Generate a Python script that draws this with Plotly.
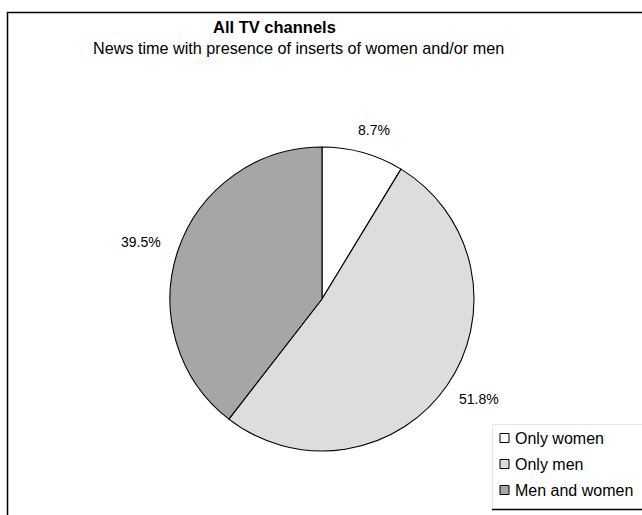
import math
import plotly.graph_objects as go

categories = ["Only women", "Only men", "Men and women"]
values = [8.7, 51.8, 39.5]
colors = ["#FFFFFF", "#DDDDDD", "#A6A6A6"]
title_text = "All TV channels"
subtitle_text = "News time with presence of inserts of women and/or men"

W, H = 642, 515
cx, cy, r = 322, 299, 152
FONT = "Liberation Sans, Arial, sans-serif"


def px(x):
    return x / W


def py(y):
    return 1 - y / H


fig = go.Figure(go.Pie(
    labels=categories,
    values=values,
    sort=False,
    direction="clockwise",
    rotation=0,
    marker=dict(colors=colors, line=dict(color="black", width=1.1)),
    textinfo="none",
    domain=dict(x=[px(cx - r), px(cx + r)], y=[py(cy + r), py(cy - r)]),
    hoverinfo="label+percent",
    showlegend=False,
))

annotations = [
    dict(text="<b>" + title_text + "</b>", x=px(274), y=py(27), xref="paper", yref="paper",
         showarrow=False, font=dict(size=16.5), xanchor="center", yanchor="middle"),
    dict(text=subtitle_text, x=px(298), y=py(48), xref="paper", yref="paper",
         showarrow=False, font=dict(size=16.2), xanchor="center", yanchor="middle"),
]

# outside percentage labels, placed around the mid-angle of each slice
total = sum(values)
cum = 0.0
R_lab, half_w, half_h = 168, 23, 8
for v in values:
    mid = math.radians((cum + v / 2) / total * 360)
    cum += v
    s, c = math.sin(mid), math.cos(mid)
    lx = cx + (R_lab + half_w) * s
    ly = cy - (R_lab + half_h) * c
    annotations.append(dict(text=f"{v:.1f}%", x=px(lx), y=py(ly), xref="paper", yref="paper",
                            showarrow=False, font=dict(size=14), xanchor="center", yanchor="middle"))

# custom legend
shapes = [
    dict(type="rect", xref="paper", yref="paper", x0=px(492.5), x1=1.02, y0=py(509.5), y1=py(424.5),
         line=dict(color="#E4E4E4", width=1), fillcolor="white", layer="below"),
]
leg_top, leg_step = 438, 26
for i, (name, col) in enumerate(zip(categories, colors)):
    yc = leg_top + i * leg_step
    shapes.append(dict(type="rect", xref="paper", yref="paper", x0=px(500), x1=px(509),
                       y0=py(yc + 4.5), y1=py(yc - 4.5), fillcolor=col,
                       line=dict(color="black", width=1), layer="above"))
    annotations.append(dict(text=name, x=px(513), y=py(yc), xref="paper", yref="paper",
                            showarrow=False, font=dict(size=16), xanchor="left", yanchor="middle"))

shapes += [
    dict(type="rect", xref="paper", yref="paper", x0=px(7.5), x1=1.05, y0=-0.05, y1=py(12.5),
         line=dict(color="black", width=1.5), fillcolor="rgba(0,0,0,0)", layer="above"),
    dict(type="line", xref="paper", yref="paper", x0=px(492), x1=1.0, y0=py(509.5), y1=py(509.5),
         line=dict(color="black", width=1.5), layer="above"),
]

fig.update_layout(
    width=W, height=H,
    margin=dict(l=0, r=0, t=0, b=0),
    paper_bgcolor="white",
    plot_bgcolor="white",
    font=dict(family=FONT, color="black"),
    showlegend=False,
    annotations=annotations,
    shapes=shapes,
)

fig.write_html("out.html")
